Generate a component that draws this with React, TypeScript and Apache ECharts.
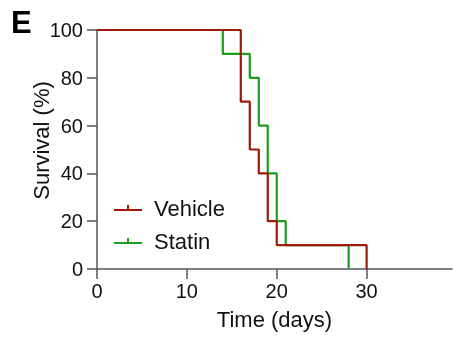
import React, { useEffect, useRef } from "react";
import * as echarts from "echarts";

const vehicleTimes = [0, 16, 17, 18, 19, 20, 30];
const vehicleSurvival = [100, 70, 50, 40, 20, 10, 0];
const statinTimes = [0, 14, 17, 18, 19, 20, 21, 28];
const statinSurvival = [100, 90, 80, 60, 40, 20, 10, 0];
const seriesNames = ["Vehicle", "Statin"];
const seriesColors = ["#a01a0c", "#1c9c1c"];

const FONT = "Liberation Sans, Arial, sans-serif";
const ICON = "path://M0,5h28v2h-28z M13,1h2v4h-2z";

export default function App() {
  const ref = useRef<HTMLDivElement>(null);
  useEffect(() => {
    const chart = echarts.init(ref.current!, null, { renderer: "svg" });
    const axisLine = { show: true, lineStyle: { color: "#555", width: 1.5 } };
    const axisTick = { show: true, length: 10, lineStyle: { color: "#555", width: 1.5 } };
    chart.setOption({
      animation: false,
      title: {
        text: "E",
        left: 6,
        top: 2,
        textStyle: { fontFamily: FONT, fontSize: 31, fontWeight: "bold", color: "#000" },
      },
      legend: {
        orient: "vertical",
        left: 109,
        top: 192,
        itemWidth: 28,
        itemHeight: 6,
        itemGap: 11,
        icon: ICON,
        data: seriesNames,
        textStyle: { fontFamily: FONT, fontSize: 22, color: "#111", padding: [0, 0, 0, 7] },
      },
      grid: { left: 97, right: 1, top: 30, bottom: 68 },
      xAxis: {
        type: "value",
        min: 0,
        max: 39.5,
        interval: 10,
        name: "Time (days)",
        nameLocation: "middle",
        nameGap: 39,
        nameMoveOverlap: false,
        nameTextStyle: { fontFamily: FONT, fontSize: 22, color: "#111" },
        axisLine,
        axisTick,
        axisLabel: { fontFamily: FONT, fontSize: 20, color: "#111", margin: 12, showMaxLabel: false },
        splitLine: { show: false },
      },
      yAxis: {
        type: "value",
        min: 0,
        max: 100,
        interval: 20,
        name: "Survival (%)",
        nameLocation: "middle",
        nameGap: 45,
        nameMoveOverlap: false,
        nameTextStyle: { fontFamily: FONT, fontSize: 22, color: "#111", padding: [0, 0, 0, 18] },
        axisLine,
        axisTick,
        axisLabel: { fontFamily: FONT, fontSize: 20, color: "#111", margin: 14 },
        splitLine: { show: false },
      },
      series: [
        {
          name: seriesNames[0],
          type: "line",
          step: "end",
          showSymbol: false,
          symbol: "none",
          data: vehicleTimes.map((t, i) => [t, vehicleSurvival[i]]),
          lineStyle: { color: seriesColors[0], width: 2.2 },
          itemStyle: { color: seriesColors[0] },
          z: 3,
        },
        {
          name: seriesNames[1],
          type: "line",
          step: "end",
          showSymbol: false,
          symbol: "none",
          data: statinTimes.map((t, i) => [t, statinSurvival[i]]),
          lineStyle: { color: seriesColors[1], width: 2.2 },
          itemStyle: { color: seriesColors[1] },
          z: 2,
        },
      ],
    });
    return () => chart.dispose();
  }, []);
  return <div ref={ref} style={{ width: 453, height: 337, position: "fixed", left: 0, top: 0 }} />;
}
